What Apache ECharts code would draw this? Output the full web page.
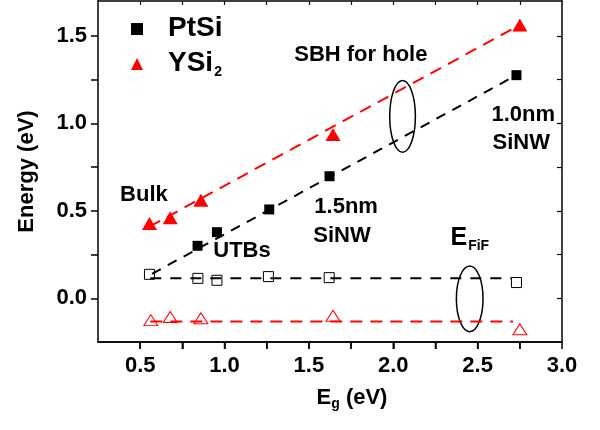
<!DOCTYPE html>
<html><head><meta charset="utf-8">
<script src="https://cdn.jsdelivr.net/npm/echarts@6/dist/echarts.min.js"></script>
<style>html,body{margin:0;padding:0;background:#fff}#c{width:600px;height:430px;background:#fff}</style>
</head><body><div id="c"></div>
<script>
// ---- data ----
const ptsiX   = [0.84, 0.955, 1.265, 1.622, 2.73];
const ptsiSBH = [0.30, 0.378, 0.508, 0.698, 1.276];
const ysi2X   = [0.555, 0.678, 0.86, 1.643, 2.75];
const ysi2SBH = [0.428, 0.46, 0.56, 0.936, 1.563];
const ptsiEfX = [0.555, 0.842, 0.955, 1.26, 1.62, 2.73];
const ptsiEf  = [0.137, 0.114, 0.103, 0.124, 0.118, 0.09];
const ysi2EfX = [0.563, 0.678, 0.86, 1.643, 2.75];
const ysi2Ef  = [-0.125, -0.107, -0.114, -0.10, -0.177];
const ptsiFitX = [0.57, 2.73],  ptsiFitY = [0.14, 1.276];
const ysi2FitX = [0.555, 2.75], ysi2FitY = [0.41, 1.563];
const ptsiEfFitX = [0.56, 2.70], ptsiEfFitY = [0.114, 0.114];
const ysi2EfFitX = [0.56, 2.71], ysi2EfFitY = [-0.133, -0.133];
const xMin = 0.25, xMax = 3.0, yMin = -0.25, yMax = 1.7;
const xMajorTicks = [0.5, 1.0, 1.5, 2.0, 2.5, 3.0];
const xAllTicks = [0.5, 0.75, 1.0, 1.25, 1.5, 1.75, 2.0, 2.25, 2.5, 2.75];
const yMajorTicks = [0.0, 0.5, 1.0, 1.5];
const yAllTicks = [0.0, 0.25, 0.5, 0.75, 1.0, 1.25, 1.5];
// ellipses: centre x, centre y, half-width, half-height (data units)
const ellipseCx = [2.055, 2.453];
const ellipseCy = [1.04, -0.003];
const ellipseRx = [0.076, 0.079];
const ellipseRy = [0.205, 0.188];
// annotations (left edge, middle), data coords
const annoText = ['Bulk', 'UTBs', '1.5nm', 'SiNW', 'SBH for hole', '1.0nm', 'SiNW'];
const annoX = [0.381, 0.933, 1.532, 1.526, 1.413, 2.582, 2.588];
const annoY = [0.593, 0.268, 0.525, 0.355, 1.389, 1.05, 0.887];
const efifX = 2.339, efifY = 0.415;

const FF = '"Liberation Sans", Arial, sans-serif';
const zip = (a, b) => a.map((v, i) => [v, b[i]]);
const axLine = () => ({show: true, onZero: false, lineStyle: {color: '#000', width: 1.5}});

const chart = echarts.init(document.getElementById('c'), null, {renderer: 'canvas'});

const option = {
  animation: false,
  grid: {left: 98, right: 38, top: 1, bottom: 88},
  legend: {
    orient: 'vertical', left: 126, top: 9, itemWidth: 12, itemHeight: 12, itemGap: 0,
    data: [{name: 'PtSi', icon: 'rect'}, {name: 'YSi2', icon: 'triangle'}],
    formatter: n => n === 'YSi2' ? '{g|}{b|YSi}{s|2}' : '{g|}{b|PtSi}',
    textStyle: {
      rich: {
        g: {width: 20},
        b: {fontSize: 28, fontWeight: 'bold', fontFamily: FF, color: '#000', lineHeight: 30, verticalAlign: 'top'},
        s: {fontSize: 14, fontWeight: 'bold', fontFamily: FF, color: '#000', lineHeight: 14, verticalAlign: 'bottom', padding: [23, 0, 0, 1]}
      }
    }
  },
  xAxis: [
    {type: 'value', min: xMin, max: xMax, splitLine: {show: false}, position: 'bottom', axisLine: axLine(),
      axisTick: {show: true, inside: false, length: 7, customValues: xAllTicks, lineStyle: {color: '#000', width: 1.5}},
      axisLabel: {show: true, customValues: xMajorTicks, margin: 13, formatter: v => v.toFixed(1),
        fontSize: 22, fontWeight: 'bold', fontFamily: FF, color: '#000'},
      name: '{b|E}{s|g}{b| (eV)}', nameLocation: 'middle', nameGap: 43,
      nameTextStyle: {padding: [0, 0, 0, 44], rich: {
        b: {fontSize: 22, fontWeight: 'bold', fontFamily: FF, color: '#000', lineHeight: 24, verticalAlign: 'top'},
        s: {fontSize: 14, fontWeight: 'bold', fontFamily: FF, color: '#000', lineHeight: 14, verticalAlign: 'bottom', padding: [15, 0, 0, 0]}
      }}},
    {type: 'value', min: xMin, max: xMax, splitLine: {show: false}, position: 'top', axisLine: axLine(),
      axisTick: {show: true, inside: true, length: 4, customValues: xAllTicks, lineStyle: {color: '#000', width: 1.2}},
      axisLabel: {show: false}}
  ],
  yAxis: [
    {type: 'value', min: yMin, max: yMax, splitLine: {show: false}, position: 'left', axisLine: axLine(),
      axisTick: {show: true, inside: false, length: 7, customValues: yAllTicks, lineStyle: {color: '#000', width: 1.5}},
      axisLabel: {show: true, customValues: yMajorTicks, margin: 11, formatter: v => v.toFixed(1),
        fontSize: 22, fontWeight: 'bold', fontFamily: FF, color: '#000'},
      name: 'Energy (eV)', nameLocation: 'middle', nameGap: 60,
      nameTextStyle: {fontSize: 22, fontWeight: 'bold', fontFamily: FF, color: '#000'}},
    {type: 'value', min: yMin, max: yMax, splitLine: {show: false}, position: 'right', axisLine: axLine(),
      axisTick: {show: true, inside: true, length: 5, customValues: yAllTicks, lineStyle: {color: '#000', width: 1.2}},
      axisLabel: {show: false}}
  ],
  series: [
    {type: 'line', data: zip(ptsiFitX, ptsiFitY), symbol: 'none', silent: true,
     lineStyle: {color: '#000', width: 2, type: [10, 8]}},
    {type: 'line', data: zip(ysi2FitX, ysi2FitY), symbol: 'none', silent: true,
     lineStyle: {color: '#ff0000', width: 2, type: [12, 8]}},
    {type: 'line', data: zip(ptsiEfFitX, ptsiEfFitY), symbol: 'none', silent: true,
     lineStyle: {color: '#000', width: 2, type: [11, 9]}},
    {type: 'line', data: zip(ysi2EfFitX, ysi2EfFitY), symbol: 'none', silent: true,
     lineStyle: {color: '#ff0000', width: 2, type: [12, 8]}},
    {name: 'PtSi', type: 'scatter', data: zip(ptsiX, ptsiSBH), symbol: 'rect', symbolSize: 10,
     itemStyle: {color: '#000', opacity: 1}},
    {name: 'YSi2', type: 'scatter', data: zip(ysi2X, ysi2SBH), symbol: 'triangle', symbolSize: [15, 13],
     itemStyle: {color: '#ff0000', opacity: 1}},
    {name: 'PtSi EF', type: 'scatter', data: zip(ptsiEfX, ptsiEf), symbol: 'rect', symbolSize: 10,
     itemStyle: {color: 'rgba(0,0,0,0)', borderColor: '#000', borderWidth: 1, opacity: 1}},
    {name: 'YSi2 EF', type: 'scatter', data: zip(ysi2EfX, ysi2Ef), symbol: 'triangle', symbolSize: [14, 11],
     itemStyle: {color: 'rgba(0,0,0,0)', borderColor: '#ff0000', borderWidth: 1, opacity: 1}},
    {type: 'custom', silent: true, clip: false,
     data: ellipseCx.map((v, i) => [v, ellipseCy[i], ellipseRx[i], ellipseRy[i]]),
     renderItem: (params, api) => {
       const c = api.coord([api.value(0), api.value(1)]);
       const s = api.size([api.value(2), api.value(3)]);
       return {type: 'ellipse', shape: {cx: c[0], cy: c[1], rx: s[0], ry: s[1]},
               style: {fill: 'none', stroke: '#000', lineWidth: 1.5}};
     }}
  ]
};
chart.setOption(option);

const toPx = (x, y) => chart.convertToPixel({xAxisIndex: 0, yAxisIndex: 0}, [x, y]);
const graphics = annoText.map((t, i) => {
  const p = toPx(annoX[i], annoY[i]);
  return {type: 'text', x: p[0], y: p[1], silent: true, z: 50,
    style: {text: t, font: 'bold 22px ' + FF, fill: '#000', align: 'left', verticalAlign: 'middle'}};
});
const pe = toPx(efifX, efifY);
graphics.push({type: 'text', x: pe[0], y: pe[1], silent: true, z: 50,
  style: {text: '{b|E}{s|FiF}', align: 'left', verticalAlign: 'top', rich: {
    b: {fontSize: 25, fontWeight: 'bold', fontFamily: FF, fill: '#000', lineHeight: 27, verticalAlign: 'top'},
    s: {fontSize: 14, fontWeight: 'bold', fontFamily: FF, fill: '#000', lineHeight: 14, verticalAlign: 'bottom', padding: [23, 0, 0, 1]}
  }}});
// bottom frame edge and its ticks, placed through the axis scales
const bl = toPx(xMin, yMin), br = toPx(xMax, yMin);
graphics.push({type: 'line', silent: true, z: 60,
  shape: {x1: bl[0] - 0.75, y1: bl[1], x2: br[0] + 0.75, y2: br[1]},
  style: {stroke: '#000', lineWidth: 1.5}});
xAllTicks.concat([xMax]).forEach(v => {
  const p = toPx(v, yMin);
  graphics.push({type: 'line', silent: true, z: 60,
    shape: {x1: p[0], y1: p[1], x2: p[0], y2: p[1] + 7},
    style: {stroke: '#000', lineWidth: 1.5}});
});
chart.setOption({graphic: graphics});
</script>
</body></html>
